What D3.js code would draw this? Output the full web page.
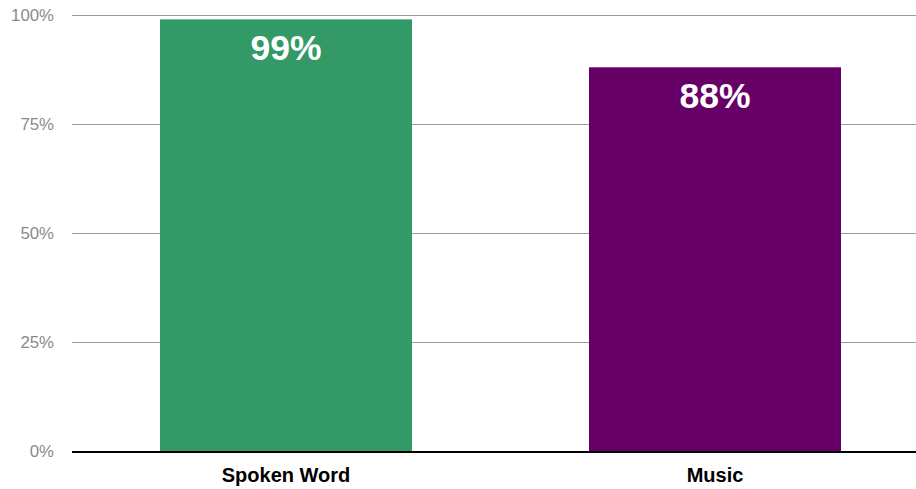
<!DOCTYPE html>
<html><head><meta charset="utf-8">
<script src="https://cdn.jsdelivr.net/npm/d3@7"></script>
<style>body{margin:0;background:#fff}svg{display:block}</style>
</head><body>
<script>
const categories = ["Spoken Word", "Music"];
const values = [99, 88];
const colors = ["#339966", "#660066"];
const tickValues = [0, 25, 50, 75, 100];

const W = 916, H = 489;
const svg = d3.select("body").append("svg").attr("width", W).attr("height", H);
const y = d3.scaleLinear().domain([0, 100]).range([451, 15]);
const x = d3.scaleBand().domain(categories).range([71.5, 929.5]).paddingInner(0.4126).paddingOuter(0.2063);
const font = "'Liberation Sans', Arial, sans-serif";

svg.append("g").selectAll("line").data(tickValues.filter(d => d > 0)).join("line")
  .attr("x1", 72).attr("x2", W).attr("y1", d => Math.round(y(d)) + 0.5).attr("y2", d => Math.round(y(d)) + 0.5)
  .attr("stroke", "#999").attr("stroke-width", 1);

svg.append("g").selectAll("text").data(tickValues).join("text")
  .attr("x", 54).attr("y", d => y(d) + 6).attr("text-anchor", "end")
  .attr("font-family", font).attr("font-size", 16.8).attr("fill", "#8a8a8a")
  .text(d => d + "%");

svg.append("g").selectAll("rect").data(values).join("rect")
  .attr("x", (d, i) => x(categories[i])).attr("width", x.bandwidth())
  .attr("y", d => y(d)).attr("height", d => y(0) - y(d))
  .attr("fill", (d, i) => colors[i]);

svg.append("line").attr("x1", 72).attr("x2", W).attr("y1", 452).attr("y2", 452)
  .attr("stroke", "#000").attr("stroke-width", 2);

svg.append("g").selectAll("text").data(values).join("text")
  .attr("x", (d, i) => x(categories[i]) + x.bandwidth() / 2).attr("y", d => y(d) + 41)
  .attr("text-anchor", "middle").attr("font-family", font).attr("font-weight", "bold")
  .attr("font-size", 35.5).attr("fill", "#fff").text(d => d + "%");

svg.append("g").selectAll("text").data(categories).join("text")
  .attr("x", d => x(d) + x.bandwidth() / 2).attr("y", 482)
  .attr("text-anchor", "middle").attr("font-family", font).attr("font-weight", "bold")
  .attr("font-size", 20).attr("fill", "#000").text(d => d);
</script>
</body></html>
